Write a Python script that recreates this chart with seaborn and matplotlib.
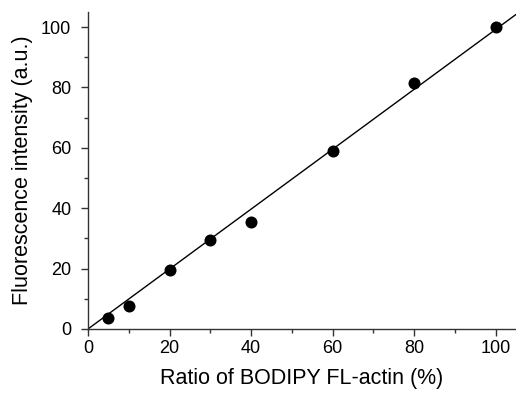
import numpy as np
import pandas as pd
import matplotlib
matplotlib.use("Agg")
import matplotlib.pyplot as plt
import seaborn as sns
from matplotlib.ticker import MultipleLocator

ratio = [5, 10, 20, 30, 40, 60, 80, 100]
intensity = [3.5, 7.5, 19.5, 29.5, 35.5, 59.0, 81.5, 100.0]
x_ticks = [0, 20, 40, 60, 80, 100]
y_ticks = [0, 20, 40, 60, 80, 100]

sns.set_theme(style="ticks")
plt.rcParams['font.family'] = ['Liberation Sans', 'DejaVu Sans']

df = pd.DataFrame({"ratio": ratio, "intensity": intensity})

fig = plt.figure(figsize=(5.16, 3.94), dpi=100)
ax = fig.add_axes([0.1705, 0.165, 0.8295, 0.8045])

# fit through origin
xa = np.array(ratio, float)
ya = np.array(intensity, float)
slope = (xa * ya).sum() / (xa * xa).sum()
xl = np.array([0, 105])
sns.lineplot(x=xl, y=slope * xl, ax=ax, color="black", linewidth=1.0)

sns.scatterplot(data=df, x="ratio", y="intensity", ax=ax, color="black",
                s=75, edgecolor="black", linewidth=0, zorder=3)

ax.set_xlim(0, 105)
ax.set_ylim(0, 105)
ax.set_xticks(x_ticks)
ax.set_yticks(y_ticks)
ax.xaxis.set_minor_locator(MultipleLocator(10))
ax.yaxis.set_minor_locator(MultipleLocator(10))
ax.tick_params(which="major", length=5, width=1, labelsize=13, color="#333333",
               labelcolor="black")
ax.tick_params(axis="x", which="major", pad=3)
ax.tick_params(axis="y", which="major", pad=7)
ax.tick_params(which="minor", length=3, width=1, color="#333333")
ax.set_xlabel("Ratio of BODIPY FL-actin (%)", fontsize=15.5, labelpad=8, color="black")
ax.set_ylabel("Fluorescence intensity (a.u.)", fontsize=15.5, labelpad=6, color="black")
for s in ["top", "right"]:
    ax.spines[s].set_visible(False)
for s in ["left", "bottom"]:
    ax.spines[s].set_linewidth(1.0)
    ax.spines[s].set_color("#333333")

fig.savefig("out.png", dpi=100)
